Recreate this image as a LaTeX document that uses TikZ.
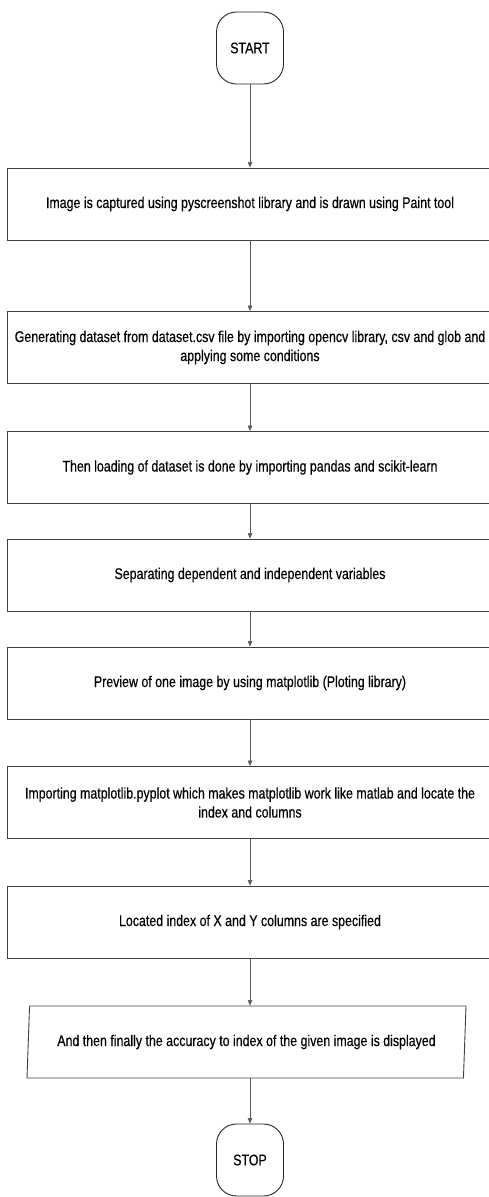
\documentclass[tikz,border=0pt]{standalone}
\usepackage{fontspec}
\setmainfont{Liberation Sans}[FakeStretch=0.8, FakeBold=0.4]
\usetikzlibrary{shapes.geometric, arrows.meta, positioning}

\begin{document}
\begin{tikzpicture}[
    x=1pt, y=1pt,
    term/.style={
        rectangle, rounded corners=20pt, draw=black!85, line width=0.9pt,
        minimum width=67pt, minimum height=72pt, inner sep=0pt,
        font=\fontsize{15.5}{19}\selectfont
    },
    proc/.style={
        rectangle, draw=black!75, line width=0.9pt,
        minimum width=486pt, minimum height=72pt, inner sep=2pt,
        font=\fontsize{15.5}{19}\selectfont, align=center
    },
    io/.style={
        trapezium, trapezium left angle=80, trapezium right angle=100,
        draw=black!75, line width=0.9pt,
        minimum width=439pt, minimum height=72pt, inner sep=0pt,
        trapezium stretches body=true,
        font=\fontsize{15.5}{19}\selectfont, align=center
    },
    flow/.style={draw=black!65, line width=0.6pt, -{Triangle[length=5.5pt, width=4.5pt]}},
    every node/.style={text=black}
]
\useasboundingbox (0,0) rectangle (488,-1197);

% --- START (top) ---
\node[term] (Start) at (250, -48) {START};

% --- steps, one below the other ---
\node[proc] (Capture) at (250, -204)
    {Image is captured using pyscreenshot library and is drawn using Paint tool};
\node[proc] (Generate) at (250, -347.5)
    {Generating dataset from dataset.csv file by importing opencv library, csv and glob and\\
     applying some conditions};
\node[proc] (Load) at (250, -467.5)
    {Then loading of dataset is done by importing pandas and scikit-learn};
\node[proc] (Separate) at (250, -575)
    {Separating dependent and independent variables};
\node[proc] (Preview) at (250, -683)
    {Preview of one image by using matplotlib (Ploting library)};
\node[proc] (Pyplot) at (250, -802.5)
    {Importing matplotlib.pyplot which makes matplotlib work like matlab and locate the\\
     index and columns};
\node[proc] (Locate) at (250, -922)
    {Located index of X and Y columns are specified};

% --- output (parallelogram) ---
\node[io] (Result) at (246.5, -1042)
    {And then finally the accuracy to index of the given image is displayed};

% --- STOP (bottom) ---
\node[term] (Stop) at (250, -1160) {STOP};

% --- arrows ---
\draw[flow] (Start.south) -- (Capture.north);
\draw[flow] (Capture.south) -- (Generate.north);
\draw[flow] (Generate.south) -- (Load.north);
\draw[flow] (Load.south) -- (Separate.north);
\draw[flow] (Separate.south) -- (Preview.north);
\draw[flow] (Preview.south) -- (Pyplot.north);
\draw[flow] (Pyplot.south) -- (Locate.north);
\draw[flow] (Locate.south) -- (Result.north -| Locate.south);
\draw[flow] (Result.south -| Locate.south) -- (Stop.north);

\end{tikzpicture}
\end{document}
